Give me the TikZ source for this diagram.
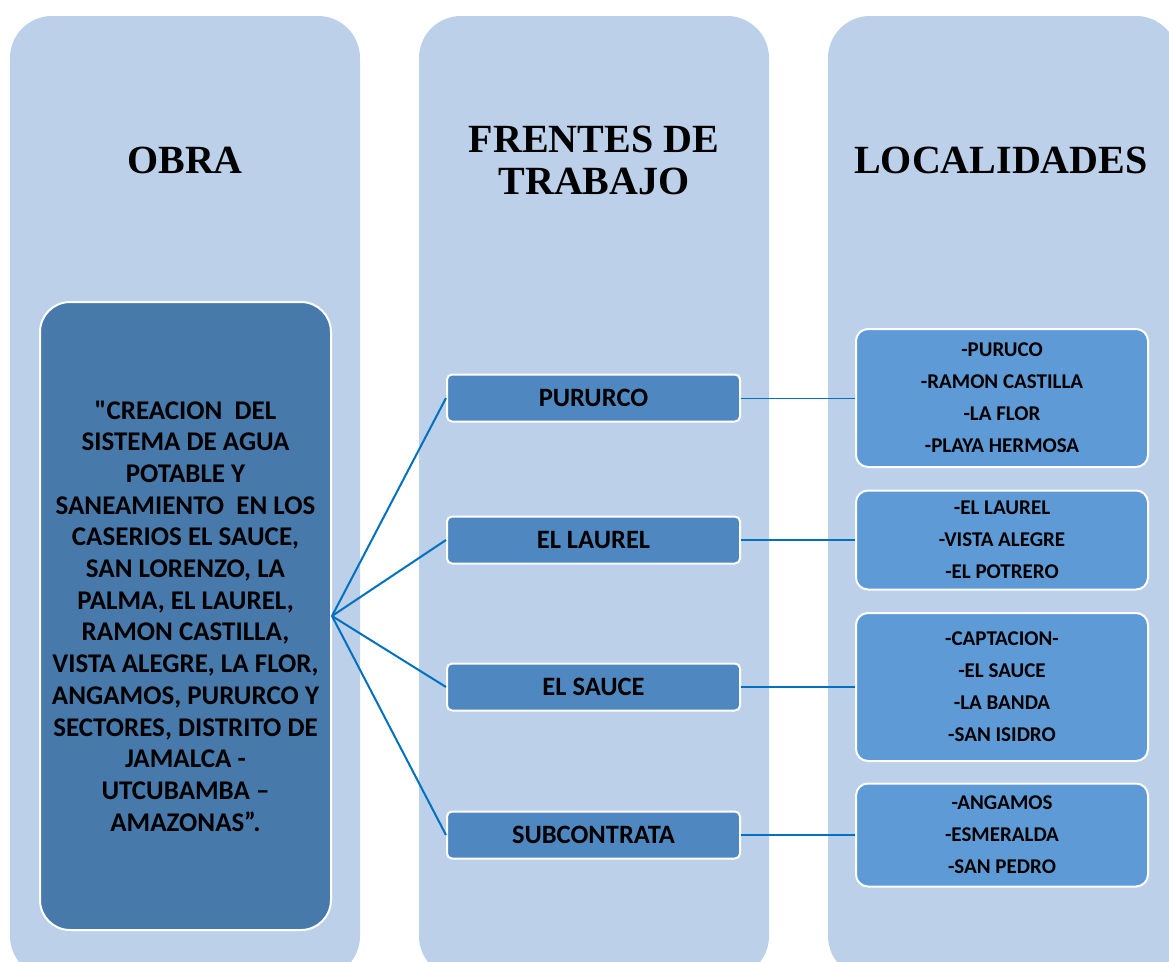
\documentclass[tikz,border=0pt]{standalone}
\usepackage{fontspec}
\setmainfont{Liberation Serif}
\newfontfamily\calib{Carlito}
\usetikzlibrary{calc}

\definecolor{colfill}{HTML}{BDD0E9}
\definecolor{obrafill}{HTML}{4779AB}
\definecolor{frentefill}{HTML}{4F88C1}
\definecolor{locfill}{HTML}{5E9BD6}
\definecolor{linkblue}{HTML}{0070C0}

\tikzset{
	column/.style={fill=colfill,rounded corners=42pt},
	header/.style={font=\bfseries\fontsize{40}{42}\selectfont,align=center},
	obrabox/.style={draw=white,line width=2pt,fill=obrafill,rounded corners=30pt,minimum width=291pt,minimum height=628pt,align=center,font=\calib\bfseries\fontsize{27}{31.7}\selectfont},
	frentebox/.style={draw=white,line width=2pt,fill=frentefill,rounded corners=5pt,minimum width=293pt,minimum height=47pt,font=\calib\bfseries\fontsize{26.5}{30}\selectfont},
	locbox/.style={draw=white,line width=2pt,fill=locfill,rounded corners=12pt,minimum width=292pt,align=center,font=\calib\bfseries\fontsize{21}{32}\selectfont},
	link/.style={draw=linkblue,line width=2pt}
}

\begin{document}
\begin{tikzpicture}[x=1pt,y=-1pt]
		\useasboundingbox (0,0) rectangle (1169,961);
		\clip (0,0) rectangle (1169,961);
		\fill[white] (0,0) rectangle (1169,961);

		\fill[column] (10,16) rectangle (360,978);
		\fill[column] (419,16) rectangle (769,978);
		\fill[column] (828,16) rectangle (1178,978);

		\node[header] (hobra) at (185,160) {OBRA};
		\node[header] (hfrentes) at (594,160) {FRENTES DE\\TRABAJO};
		\node[header] (hlocal) at (1001,160) {LOCALIDADES};

		\node[obrabox] (obra) at (185.5,616) {"CREACION\ \ DEL\\SISTEMA DE AGUA\\POTABLE Y\\SANEAMIENTO\ \ EN LOS\\CASERIOS EL SAUCE,\\SAN LORENZO, LA\\PALMA, EL LAUREL,\\RAMON CASTILLA,\\VISTA ALEGRE, LA FLOR,\\ANGAMOS, PURURCO Y\\SECTORES, DISTRITO DE\\JAMALCA -\\UTCUBAMBA –\\AMAZONAS”.};

		\node[frentebox] (pururco) at (593.5,398) {PURURCO};
		\node[frentebox] (laurel) at (593.5,540) {EL LAUREL};
		\node[frentebox] (sauce) at (593.5,687) {EL SAUCE};
		\node[frentebox] (subcontrata) at (593.5,835) {SUBCONTRATA};

		\node[locbox,minimum height=138pt] (locpururco) at (1002,398) {-PURUCO\\-RAMON CASTILLA\\-LA FLOR\\-PLAYA HERMOSA};
		\node[locbox,minimum height=99pt] (loclaurel) at (1002,540) {-EL LAUREL\\-VISTA ALEGRE\\-EL POTRERO};
		\node[locbox,minimum height=148pt] (locsauce) at (1002,687) {-CAPTACION-\\-EL SAUCE\\-LA BANDA\\-SAN ISIDRO};
		\node[locbox,minimum height=103pt] (locsub) at (1002,835) {-ANGAMOS\\-ESMERALDA\\-SAN PEDRO};

		\draw[link] (obra.east) -- (pururco.west);
		\draw[link] (obra.east) -- (laurel.west);
		\draw[link] (obra.east) -- (sauce.west);
		\draw[link] (obra.east) -- (subcontrata.west);

		\draw[link,line width=1pt] (pururco.east) -- (locpururco.west);
		\draw[link,line width=2.5pt] (laurel.east) -- (loclaurel.west);
		\draw[link,line width=2.5pt] (sauce.east) -- (locsauce.west);
		\draw[link,line width=2.5pt] (subcontrata.east) -- (locsub.west);
	\end{tikzpicture}
\end{document}
